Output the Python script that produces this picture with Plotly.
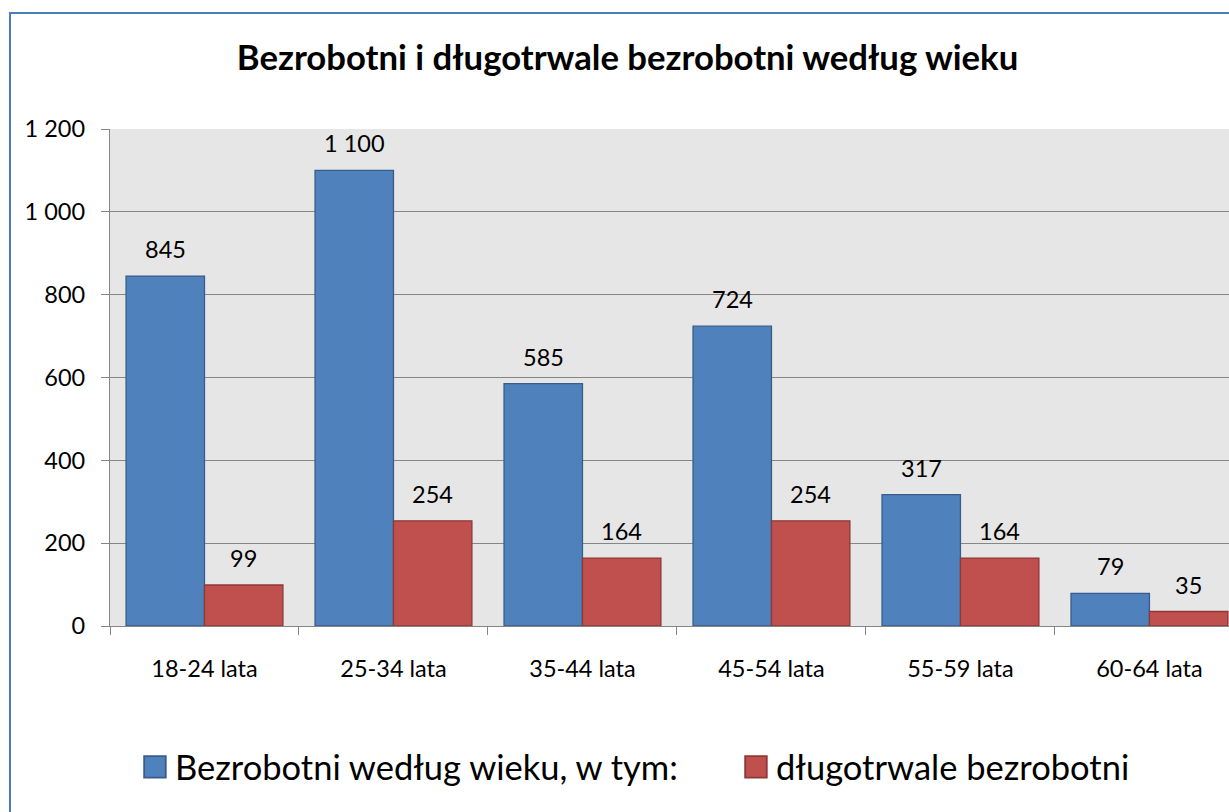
import plotly.graph_objects as go

categories = ["18-24 lata", "25-34 lata", "35-44 lata", "45-54 lata", "55-59 lata", "60-64 lata"]
unemployed = [845, 1100, 585, 724, 317, 79]
long_term = [99, 254, 164, 254, 164, 35]
series_names = ["Bezrobotni według wieku, w tym:", "długotrwale bezrobotni"]
y_ticks = [0, 200, 400, 600, 800, 1000, 1200]

FONT = "Lato"
BLUE, BLUE_EDGE = "#4F81BD", "#385D8A"
RED, RED_EDGE = "#C0504D", "#8C3836"
GAP = 0.17

fig = go.Figure()
fig.add_bar(x=categories, y=unemployed, name=series_names[0], legend="legend",
            marker=dict(color=BLUE, line=dict(color=BLUE_EDGE, width=1.3)))
fig.add_bar(x=categories, y=long_term, name=series_names[1], legend="legend2",
            marker=dict(color=RED, line=dict(color=RED_EDGE, width=1.3)))

# value labels above bars
bw = (1 - GAP) / 2
for k, vals in enumerate([unemployed, long_term]):
    off = -bw / 2 if k == 0 else bw / 2
    for i, v in enumerate(vals):
        fig.add_annotation(x=i + off, y=v, xref="x", yref="y",
                           text=f"{v:,}".replace(",", " "), showarrow=False,
                           yanchor="bottom", yshift=11,
                           font=dict(family=FONT, size=23.5, color="#000000"))

leg_common = dict(orientation="h", yanchor="middle", y=-0.2837, xanchor="left",
                  font=dict(family=FONT, size=34.5, color="#000000"),
                  bgcolor="rgba(0,0,0,0)", visible=True)

fig.update_layout(
    width=1229, height=812,
    margin=dict(l=110, r=0, t=129, b=186, autoexpand=False),
    paper_bgcolor="white", plot_bgcolor="#E6E6E6",
    barmode="group", bargap=GAP, bargroupgap=0,
    separators=", ", showlegend=True,
    font=dict(family=FONT, size=23.5, color="#000000"),
    title=dict(text="<b>Bezrobotni i długotrwale bezrobotni według wieku</b>",
               x=0.5106, xref="container", xanchor="center",
               y=0.9286, yref="container", yanchor="middle",
               font=dict(family=FONT, size=34.7, color="#000000")),
    legend=dict(x=0.0223, **leg_common),
    legend2=dict(x=0.5594, **leg_common),
    xaxis=dict(range=[-0.5, 5.421], showline=True, linecolor="#868686", linewidth=1.3,
               ticks="outside", tickson="boundaries", ticklen=8, tickcolor="#868686",
               ticklabelstandoff=22, showgrid=False, fixedrange=True),
    yaxis=dict(range=[0, 1200], tickvals=y_ticks, tickformat=",d",
               showline=True, linecolor="#868686", linewidth=1.3,
               ticks="outside", ticklen=8, tickcolor="#868686",
               ticklabelstandoff=11,
               showgrid=True, gridcolor="#868686", gridwidth=1.3, zeroline=False),
    shapes=[dict(type="rect", xref="paper", yref="paper",
                 x0=(10 - 110) / 1119, x1=1.2, y0=-0.6, y1=(626 - 13) / 497,
                 line=dict(color="#4A7EBB", width=2), fillcolor="rgba(0,0,0,0)",
                 layer="below")],
)

post = """
document.body.style.margin='0';document.body.style.overflow='hidden';
function fixLegend(){
  document.querySelectorAll('.legendpoints path').forEach(function(p){
    var t = p.getAttribute('data-t0');
    if (t === null) { t = p.getAttribute('transform') || ''; p.setAttribute('data-t0', t); }
    p.setAttribute('d', 'M6,6H-6V-6H6Z');
    p.setAttribute('transform', t + ' scale(1.8)');
    p.style.strokeWidth = '1px';
  });
}
fixLegend(); setTimeout(fixLegend, 50); setTimeout(fixLegend, 300);
"""
fig.write_html("out.html", post_script=post, config={"displayModeBar": False})
